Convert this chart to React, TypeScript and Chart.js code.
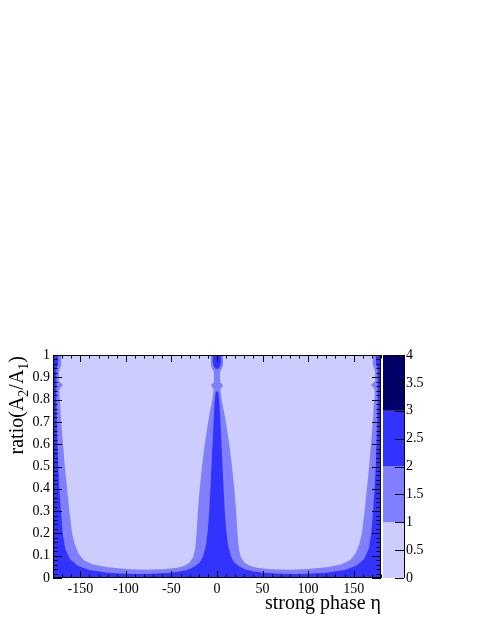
import React, { useEffect, useRef } from "react";
import { Chart, registerables } from "chart.js";

Chart.register(...registerables);

// ---- axis ticks / labels ----
const xTicks = [-150, -100, -50, 0, 50, 100, 150];
const xTickLabels = ["-150", "-100", "-50", "0", "50", "100", "150"];
const yTicks = [0, 0.1, 0.2, 0.3, 0.4, 0.5, 0.6, 0.7, 0.8, 0.9, 1];
const yTickLabels = ["0", "0.1", "0.2", "0.3", "0.4", "0.5", "0.6", "0.7", "0.8", "0.9", "1"];
const zTicks = [0, 0.5, 1, 1.5, 2, 2.5, 3, 3.5, 4];
const zTickLabels = ["0", "0.5", "1", "1.5", "2", "2.5", "3", "3.5", "4"];

// ---- palette (contour levels) ----
const zLevels = [0, 1, 2, 3, 4];
const zColors = ["#ccccff", "#8080ff", "#3333ff", "#000066"];

// ---- contour outlines, left half (eta from -180 to 0); the plot is mirror symmetric ----
// level 1-2 region (medium)
const mediumHalfX = [-180, -171, -171, -172.5, -173.5, -173.5, -171.5, -169, -171.5, -173, -172.5, -171, -169, -167, -164.5, -162, -159, -156, -152, -146, -136, -120, -100, -80, -60, -45, -36, -30, -26, -24, -22.5, -21, -19, -16.5, -13.5, -10.5, -8, -5.5, -3.8, -3.8, -6.2, -6.2, -3.5, -3.3, -3.3, -5.5, -6.6, -6.6];
const mediumHalfY = [1, 1, 0.955, 0.94, 0.92, 0.885, 0.875, 0.865, 0.855, 0.845, 0.8, 0.7, 0.6, 0.5, 0.4, 0.3, 0.2, 0.15, 0.11, 0.08, 0.06, 0.048, 0.04, 0.037, 0.039, 0.045, 0.055, 0.07, 0.095, 0.13, 0.2, 0.3, 0.4, 0.5, 0.6, 0.68, 0.74, 0.79, 0.835, 0.848, 0.86, 0.868, 0.878, 0.89, 0.925, 0.94, 0.955, 1];
// level 2-3 region (blue)
const blueHalfX = [-180, -174.5, -174.5, -175.2, -176.2, -176.3, -175.5, -174.2, -173, -171.3, -169.3, -166.5, -161.5, -153, -140, -120, -100, -85, -70, -55, -42, -32, -25, -19, -15, -12, -10, -8.5, -7, -5.5, -4, -2.8, -1.5, 0];
const blueHalfY = [1, 1, 0.965, 0.95, 0.94, 0.8, 0.65, 0.5, 0.4, 0.3, 0.2, 0.13, 0.085, 0.055, 0.036, 0.024, 0.019, 0.018, 0.019, 0.022, 0.028, 0.037, 0.05, 0.07, 0.1, 0.15, 0.22, 0.3, 0.42, 0.55, 0.68, 0.78, 0.834, 0.838];
// level 2-3 blob at the top of eta = 0
const blobHalfX = [-4.6, -4.6, -3.5, -2, 0];
const blobHalfY = [1, 0.965, 0.95, 0.94, 0.938];

type P = { x: number; y: number };

function mirrored(hx: number[], hy: number[], closeBottom: boolean): P[] {
  const left: P[] = hx.map((x, i) => ({ x, y: hy[i] }));
  const right: P[] = left
    .slice()
    .reverse()
    .filter((p) => p.x !== 0)
    .map((p) => ({ x: -p.x, y: p.y }));
  const pts = left.concat(right);
  if (closeBottom) {
    pts.push({ x: 180, y: 0 }, { x: -180, y: 0 });
  }
  return pts;
}

const FONT = '"Liberation Serif", "Times New Roman", serif';

const rootPlugin = {
  id: "rootDecor",
  afterDatasetsDraw(chart: any) {
    const { ctx, chartArea: a, scales } = chart;
    const xs = scales.x;
    const ys = scales.y;
    const zs = scales.z;
    ctx.save();

    // colour bar
    const cbL = a.right + 2;
    const cbR = a.right + 23;
    for (let i = 0; i < zColors.length; i++) {
      const y0 = zs.getPixelForValue(zLevels[i]);
      const y1 = zs.getPixelForValue(zLevels[i + 1]);
      ctx.fillStyle = zColors[i];
      ctx.fillRect(cbL, y1, cbR - cbL, y0 - y1);
    }
    ctx.strokeStyle = "#000";
    ctx.lineWidth = 1;
    ctx.beginPath();
    ctx.moveTo(cbR + 0.5, a.top);
    ctx.lineTo(cbR + 0.5, a.bottom);
    for (const v of zTicks) {
      const py = Math.round(zs.getPixelForValue(v)) + 0.5;
      ctx.moveTo(cbR, py);
      ctx.lineTo(cbR - 9, py);
    }
    ctx.stroke();

    // frame
    ctx.strokeRect(a.left + 0.5, a.top + 0.5, a.right - a.left - 1, a.bottom - a.top - 1);

    // ROOT-style inward ticks
    ctx.beginPath();
    for (let v = -180; v <= 180; v += 10) {
      const px = Math.round(xs.getPixelForValue(v)) + 0.5;
      const len = xTicks.includes(v) ? 7 : 3.5;
      ctx.moveTo(px, a.bottom);
      ctx.lineTo(px, a.bottom - len);
      ctx.moveTo(px, a.top);
      ctx.lineTo(px, a.top + len);
    }
    for (let k = 0; k <= 50; k++) {
      const v = k * 0.02;
      const py = Math.round(ys.getPixelForValue(v)) + 0.5;
      const len = k % 5 === 0 ? 9 : 4.5;
      ctx.moveTo(a.left, py);
      ctx.lineTo(a.left + len, py);
      ctx.moveTo(a.right, py);
      ctx.lineTo(a.right - len, py);
    }
    ctx.stroke();

    // axis titles
    ctx.fillStyle = "#000";
    ctx.textBaseline = "alphabetic";
    ctx.font = `20px ${FONT}`;
    ctx.textAlign = "right";
    ctx.fillText("strong phase \u03b7", a.right, 609);

    const parts = [
      { t: "ratio(A", sub: false },
      { t: "2", sub: true },
      { t: "/A", sub: false },
      { t: "1", sub: true },
      { t: ")", sub: false },
    ];
    const mainFont = `20px ${FONT}`;
    const subFont = `14px ${FONT}`;
    let total = 0;
    const widths = parts.map((p) => {
      ctx.font = p.sub ? subFont : mainFont;
      const w = ctx.measureText(p.t).width;
      total += w;
      return w;
    });
    ctx.translate(23, a.top + 1);
    ctx.rotate(-Math.PI / 2);
    ctx.textAlign = "left";
    let x = -total;
    parts.forEach((p, i) => {
      ctx.font = p.sub ? subFont : mainFont;
      ctx.fillText(p.t, x, p.sub ? 5 : 0);
      x += widths[i];
    });
    ctx.restore();
  },
};

export default function App() {
  const ref = useRef<HTMLCanvasElement | null>(null);

  useEffect(() => {
    if (!ref.current) return;
    const common = {
      showLine: true,
      fill: "shape",
      pointRadius: 0,
      pointHoverRadius: 0,
      borderWidth: 0,
      borderColor: "rgba(0,0,0,0)",
      tension: 0,
    };
    const chart = new Chart(ref.current, {
      type: "scatter",
      data: {
        datasets: [
          {
            ...common,
            label: "0-1",
            order: 4,
            backgroundColor: zColors[0],
            data: [
              { x: -180, y: 0 },
              { x: -180, y: 1 },
              { x: 180, y: 1 },
              { x: 180, y: 0 },
            ],
          },
          {
            ...common,
            label: "1-2",
            order: 3,
            backgroundColor: zColors[1],
            data: mirrored(mediumHalfX, mediumHalfY, true),
          },
          {
            ...common,
            label: "2-3",
            order: 2,
            backgroundColor: zColors[2],
            data: mirrored(blueHalfX, blueHalfY, true),
          },
          {
            ...common,
            label: "2-3 top",
            order: 1,
            backgroundColor: zColors[2],
            data: mirrored(blobHalfX, blobHalfY, false),
          },
        ] as any,
      },
      options: {
        responsive: false,
        animation: false,
        devicePixelRatio: 1,
        layout: { padding: { top: 355, left: 0, right: 0, bottom: 0 } },
        plugins: { legend: { display: false }, tooltip: { enabled: false } },
        events: [],
        scales: {
          x: {
            type: "linear",
            position: "bottom",
            min: -180,
            max: 180,
            afterBuildTicks: (s: any) => {
              s.ticks = xTicks.map((v) => ({ value: v }));
            },
            afterFit: (s: any) => {
              s.height = 50;
            },
            grid: { display: false, drawTicks: false },
            border: { display: false },
            ticks: {
              autoSkip: false,
              maxRotation: 0,
              padding: 3,
              color: "#000",
              font: { family: FONT, size: 14 },
              callback: (_v: any, i: number) => xTickLabels[i],
            },
          },
          y: {
            type: "linear",
            position: "left",
            min: 0,
            max: 1,
            afterBuildTicks: (s: any) => {
              s.ticks = yTicks.map((v) => ({ value: v }));
            },
            afterFit: (s: any) => {
              s.width = 53;
            },
            grid: { display: false, drawTicks: false },
            border: { display: false },
            ticks: {
              autoSkip: false,
              padding: 3,
              color: "#000",
              font: { family: FONT, size: 14 },
              callback: (_v: any, i: number) => yTickLabels[i],
            },
          },
          z: {
            type: "linear",
            position: "right",
            min: 0,
            max: 4,
            afterBuildTicks: (s: any) => {
              s.ticks = zTicks.map((v) => ({ value: v }));
            },
            afterFit: (s: any) => {
              s.width = 104;
            },
            grid: { display: false, drawTicks: false },
            border: { display: false },
            ticks: {
              autoSkip: false,
              padding: 25,
              color: "#000",
              font: { family: FONT, size: 14 },
              callback: (_v: any, i: number) => zTickLabels[i],
            },
          },
        },
      } as any,
      plugins: [rootPlugin],
    });
    return () => chart.destroy();
  }, []);

  return (
    <canvas
      ref={ref}
      width={485}
      height={628}
      style={{ position: "absolute", left: 0, top: 0, width: 485, height: 628 }}
    />
  );
}
